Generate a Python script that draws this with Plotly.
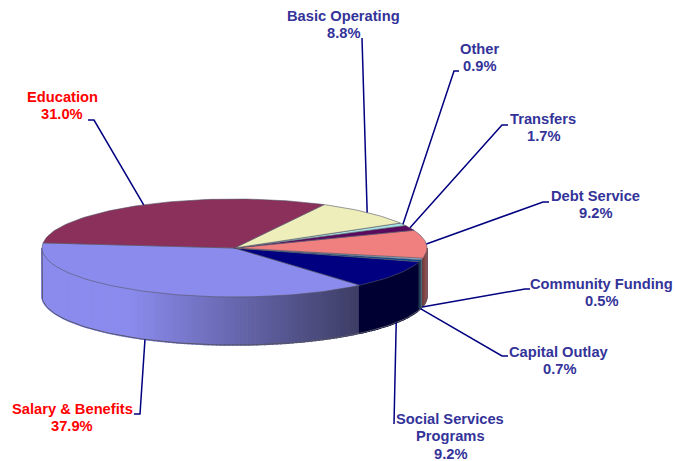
import math
import plotly.graph_objects as go

# ---- data ----
labels = [["Salary & Benefits"], ["Social Services", "Programs"], ["Capital Outlay"], ["Community Funding"],
          ["Debt Service"], ["Transfers"], ["Other"], ["Basic Operating"], ["Education"]]
values = [37.9, 9.2, 0.7, 0.5, 9.2, 1.7, 0.9, 8.8, 31.0]

# ---- styles ----
top_colors = ["#8B8BEE", "#000080", "#0A4A90", "#9CC8E0", "#F07F7F", "#5A0A5E", "#A8E4E4", "#EEEEBB", "#8B2F5B"]
side_from = ["#8B8BEE", "#000033", "#22384F", "#4A6A80", "#6E3A3A", "#2A002A", "#5A7A7A", "#8A8A60", "#501838"]
side_to = ["#3E3E66", "#000033", "#22384F", "#4A6A80", "#A85858", "#2A002A", "#5A7A7A", "#8A8A60", "#501838"]
text_colors = ["#FF0000", "#333399", "#333399", "#333399", "#333399", "#333399", "#333399", "#333399", "#FF0000"]
# label centre x and first-line y, and leader-line elbow points, in page pixels
label_pos = [(72, 409), (450, 419), (559, 352), (601, 284), (595, 196), (543, 119), (479, 49), (343, 16), (62, 97)]
elbows = [[(140, 414), (134, 414)], [(394, 424)], [(502, 356), (508, 356)], [(525, 289), (530, 289)],
          [(543, 202), (549, 202)], [(502, 125), (508, 125)], [(454, 71), (459, 71)], [(362, 38)],
          [(94, 120), (88, 120)]]
CX, CY, A, B, DEPTH = 234.5, 248.0, 192.5, 49.0, 48.0
START = 174.0
LEADER = "#000080"
EDGE = "#555566"
LINE_STEP = 17.3


def pt(t, dy=0.0):
    r = math.radians(t)
    return CX + A * math.cos(r), CY - B * math.sin(r) + dy


def hex_rgb(h):
    return tuple(int(h[i:i + 2], 16) for i in (1, 3, 5))


def mix(c1, c2, f):
    a, b = hex_rgb(c1), hex_rgb(c2)
    return "rgb(%d,%d,%d)" % tuple(round(a[i] + (b[i] - a[i]) * f) for i in range(3))


# cumulative angles derived from the values
total = sum(values)
bounds = [START]
for v in values:
    bounds.append(bounds[-1] + v / total * 360)

fig = go.Figure()


def poly(xs, ys, fill, line=None, width=0.6):
    fig.add_trace(go.Scatter(x=xs, y=ys, mode="lines", fill="toself", fillcolor=fill,
                             line=dict(color=line or fill, width=width), hoverinfo="skip", showlegend=False))


# rim (only the lower half of the ellipse is visible)
for i in range(len(values)):
    a0, a1 = max(bounds[i], 180), min(bounds[i + 1], 360)
    if a1 <= a0:
        continue
    n = max(1, int((a1 - a0) / 1.2))
    for k in range(n):
        t0 = a0 + (a1 - a0) * k / n
        t1 = a0 + (a1 - a0) * (k + 1) / n
        x_mid = pt((t0 + t1) / 2)[0]
        if i == 0:
            f = min(1, max(0, (x_mid - 130) / (358 - 130)))
        else:
            f = (k + 0.5) / n
        col = mix(side_from[i], side_to[i], f)
        ts = [t0, (t0 + t1) / 2, t1]
        top = [pt(t) for t in ts]
        bot = [pt(t, DEPTH) for t in reversed(ts)]
        xy = top + bot
        poly([p[0] for p in xy] + [xy[0][0]], [p[1] for p in xy] + [xy[0][1]], col, width=1.6)

# outline of the lower rim
rim_t = [180 + d for d in range(0, 181, 2)]
rim = [pt(180)] + [pt(t, DEPTH) for t in rim_t] + [pt(360)]
fig.add_trace(go.Scatter(x=[p[0] for p in rim], y=[p[1] for p in rim], mode="lines",
                         line=dict(color=EDGE, width=1), hoverinfo="skip", showlegend=False))

# top faces
for i in range(len(values)):
    n = max(2, int((bounds[i + 1] - bounds[i]) / 1.5))
    arc = [pt(bounds[i] + (bounds[i + 1] - bounds[i]) * k / n) for k in range(n + 1)]
    xy = [(CX, CY)] + arc + [(CX, CY)]
    poly([p[0] for p in xy], [p[1] for p in xy], top_colors[i], line=EDGE, width=0.6)

# leader lines, anchored at each slice's mid-angle
for i in range(len(values)):
    mid = (bounds[i] + bounds[i + 1]) / 2
    m = mid % 360
    anchor = pt(m, DEPTH if m > 180 else 0)
    path = [anchor] + elbows[i]
    fig.add_trace(go.Scatter(x=[p[0] for p in path], y=[p[1] for p in path], mode="lines",
                             line=dict(color=LEADER, width=1.5), hoverinfo="skip", showlegend=False))
    rows = labels[i] + ["%.1f%%" % values[i]]
    for j, row in enumerate(rows):
        fig.add_annotation(x=label_pos[i][0], y=label_pos[i][1] + j * LINE_STEP, xref="x", yref="y",
                           showarrow=False, text="<b>%s</b>" % row, align="center",
                           font=dict(family="Liberation Sans", size=14.7, color=text_colors[i]))

fig.update_layout(width=675, height=461, margin=dict(l=0, r=0, t=0, b=0), paper_bgcolor="white",
                  plot_bgcolor="white", showlegend=False,
                  xaxis=dict(range=[0, 675], visible=False, fixedrange=True),
                  yaxis=dict(range=[461, 0], visible=False, fixedrange=True))
fig.write_html("out.html", config={"displayModeBar": False},
               post_script="document.body.style.margin='0';")
